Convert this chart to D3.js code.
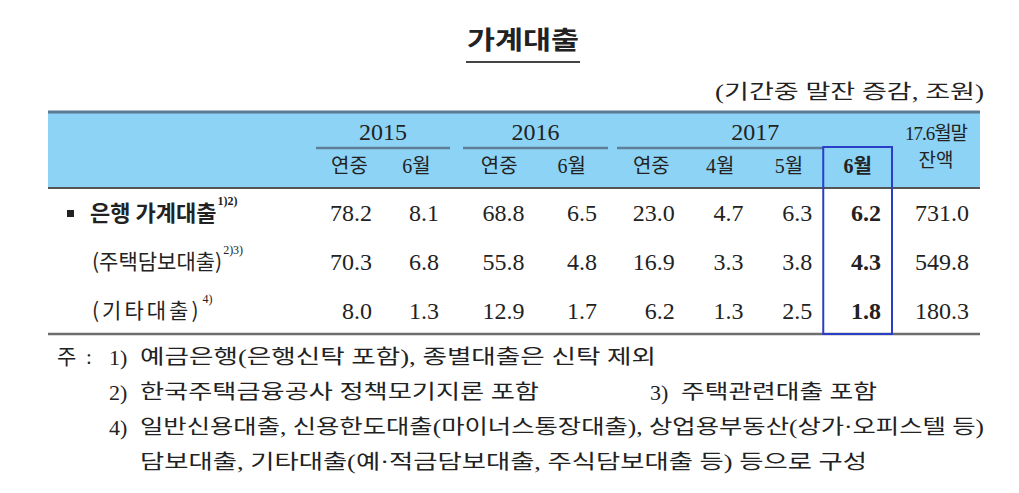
<!DOCTYPE html>
<html>
<head>
<meta charset="utf-8">
<script src="https://cdn.jsdelivr.net/npm/d3@7"></script>
<style>
body { margin: 0; background: #fff; }
</style>
</head>
<body>
<svg id="chart"></svg>
<script>
// table content
const title = '가계대출';
const unitNote = '(기간중 말잔 증감, 조원)';
const years = ['2015', '2016', '2017'];
const periodsByYear = [['연중', '6월'], ['연중', '6월'], ['연중', '4월', '5월', '6월']];
const balanceHeader = ['17.6월말', '잔액'];
const rowLabels = ['은행 가계대출', '(주택담보대출)', '(기타대출)'];
const rowFootnotes = ['1)2)', '2)3)', '4)'];
const bankLoans = [78.2, 8.1, 68.8, 6.5, 23.0, 4.7, 6.3, 6.2, 731.0];
const mortgageLoans = [70.3, 6.8, 55.8, 4.8, 16.9, 3.3, 3.8, 4.3, 549.8];
const otherLoans = [8.0, 1.3, 12.9, 1.7, 6.2, 1.3, 2.5, 1.8, 180.3];
const footnotes = [
  {num: '1)', text: '예금은행(은행신탁 포함), 종별대출은 신탁 제외'},
  {num: '2)', text: '한국주택금융공사 정책모기지론 포함'},
  {num: '3)', text: '주택관련대출 포함'},
  {num: '4)', text: '일반신용대출, 신용한도대출(마이너스통장대출), 상업용부동산(상가·오피스텔 등)'},
  {num: '', text: '담보대출, 기타대출(예·적금담보대출, 주식담보대출 등) 등으로 구성'}
];

// layout
const W = 1019, H = 493;
const tableLeft = 48, tableRight = 980;
const headTop = 112, headBottom = 188, tableBottom = 334;
const groupExtents = [[316, 450], [463, 608], [617, 892]];
const balanceExtent = [892, 980];
const rowY = d3.scalePoint().domain(d3.range(rowLabels.length)).range([213, 311]);
const labelSizes = [22, 21, 21];
const labelSpacing = [0, 0, 3];
const noteRows = [[0], [1, 2], [3], [4]];
const noteY = d3.scalePoint().domain(d3.range(noteRows.length)).range([357, 462]);
const noteWidths = [516, 399, 196, 844, 727];

const SERIF = "'Liberation Serif', 'Noto Sans CJK KR', serif";
const KR = "'Noto Sans CJK KR', sans-serif";
const ink = '#222';

const svg = d3.select('#chart').attr('width', W).attr('height', H);

// build columns from groups
const columns = [];
years.forEach((yr, g) => {
  const band = d3.scaleBand().domain(periodsByYear[g].map((p, i) => i)).range(groupExtents[g]);
  periodsByYear[g].forEach((p, i) => {
    columns.push({year: yr, label: p, x0: band(i), x1: band(i) + band.bandwidth()});
  });
});
columns.push({year: null, label: balanceHeader, x0: balanceExtent[0], x1: balanceExtent[1]});
const hiIndex = columns.length - 2; // 2017 6월

// title
svg.append('text')
  .attr('x', 523).attr('y', 40).attr('dy', '0.35em')
  .attr('text-anchor', 'middle')
  .attr('font-family', KR).attr('font-weight', 'bold').attr('font-size', 25)
  .attr('textLength', 112).attr('lengthAdjust', 'spacingAndGlyphs')
  .attr('fill', ink).text(title);
svg.append('line').attr('x1', 466).attr('x2', 580).attr('y1', 62).attr('y2', 62)
  .attr('stroke', '#444').attr('stroke-width', 2);

svg.append('text')
  .attr('x', 984).attr('y', 92).attr('dy', '0.35em')
  .attr('text-anchor', 'end')
  .attr('font-family', SERIF).attr('font-size', 20)
  .attr('textLength', 269).attr('lengthAdjust', 'spacingAndGlyphs')
  .attr('fill', ink).text(unitNote);

// header band
svg.append('rect').attr('x', tableLeft).attr('y', headTop)
  .attr('width', tableRight - tableLeft).attr('height', headBottom - headTop)
  .attr('fill', '#8dd3f6');
svg.append('line').attr('x1', tableLeft).attr('x2', tableRight).attr('y1', headTop).attr('y2', headTop)
  .attr('stroke', '#5b7b93').attr('stroke-width', 3);
svg.append('line').attr('x1', tableLeft).attr('x2', tableRight).attr('y1', headBottom).attr('y2', headBottom)
  .attr('stroke', '#555').attr('stroke-width', 2);

// years + underlines
years.forEach((yr, g) => {
  const ext = groupExtents[g];
  const lineEnd = g === years.length - 1 ? columns[hiIndex].x0 : ext[1];
  svg.append('text')
    .attr('x', (ext[0] + lineEnd) / 2 + (g === 2 ? 35 : 0)).attr('y', 132).attr('dy', '0.35em')
    .attr('text-anchor', 'middle')
    .attr('font-family', SERIF).attr('font-size', 24)
    .attr('fill', ink).text(yr);
  svg.append('line').attr('x1', ext[0]).attr('x2', lineEnd).attr('y1', 148).attr('y2', 148)
    .attr('stroke', '#5f7f98').attr('stroke-width', 2.5);
});

// period labels
columns.forEach((c, i) => {
  const cx = (c.x0 + c.x1) / 2;
  if (Array.isArray(c.label)) {
    svg.append('text').attr('x', cx).attr('y', 133).attr('dy', '0.35em')
      .attr('text-anchor', 'middle').attr('font-family', SERIF).attr('font-size', 19)
      .attr('letter-spacing', -1).attr('fill', ink).text(c.label[0]);
    svg.append('text').attr('x', cx).attr('y', 160).attr('dy', '0.35em')
      .attr('text-anchor', 'middle').attr('font-family', SERIF).attr('font-size', 19)
      .attr('fill', ink).text(c.label[1]);
  } else {
    svg.append('text').attr('x', cx).attr('y', 166).attr('dy', '0.35em')
      .attr('text-anchor', 'middle').attr('font-family', SERIF).attr('font-size', 20)
      .attr('font-weight', i === hiIndex ? 'bold' : 'normal')
      .attr('fill', ink).text(c.label);
  }
});

// data rows
const rows = [bankLoans, mortgageLoans, otherLoans];
rows.forEach((vals, r) => {
  const y = rowY(r);
  const lx = r === 0 ? 90 : 92;
  if (r === 0) {
    svg.append('rect').attr('x', 67).attr('y', y - 3).attr('width', 7).attr('height', 7).attr('fill', ink);
  }
  const label = svg.append('text').attr('x', lx).attr('y', y).attr('dy', '0.35em')
    .attr('font-family', KR).attr('font-size', labelSizes[r])
    .attr('font-weight', r === 0 ? 'bold' : 'normal')
    .attr('letter-spacing', labelSpacing[r])
    .attr('fill', ink).text(rowLabels[r]);
  const lw = label.node().getComputedTextLength();
  svg.append('text').attr('x', lx + lw + 1).attr('y', y - 8)
    .attr('font-family', SERIF).attr('font-size', 12)
    .attr('font-weight', r === 0 ? 'bold' : 'normal')
    .attr('fill', ink).text(rowFootnotes[r]);

  svg.selectAll(null).data(vals).enter().append('text')
    .attr('x', (d, i) => columns[i].x1 - 11)
    .attr('y', y).attr('dy', '0.35em')
    .attr('text-anchor', 'end')
    .attr('font-family', SERIF).attr('font-size', 24)
    .attr('font-weight', (d, i) => i === hiIndex ? 'bold' : 'normal')
    .attr('fill', ink)
    .text(d => d3.format('.1f')(d));
});

// bottom rule and highlight box
svg.append('line').attr('x1', tableLeft).attr('x2', tableRight).attr('y1', tableBottom).attr('y2', tableBottom)
  .attr('stroke', '#6d6d6d').attr('stroke-width', 2.5);
svg.append('rect')
  .attr('x', columns[hiIndex].x0).attr('y', 147)
  .attr('width', columns[hiIndex].x1 - columns[hiIndex].x0).attr('height', tableBottom - 147)
  .attr('fill', 'none').attr('stroke', '#2b3fc6').attr('stroke-width', 2);

// footnotes
svg.append('text').attr('x', 57).attr('y', noteY(0)).attr('dy', '0.35em')
  .attr('font-family', SERIF).attr('font-size', 21).attr('fill', ink).text('주');
svg.append('text').attr('x', 86).attr('y', noteY(0)).attr('dy', '0.35em')
  .attr('font-family', SERIF).attr('font-size', 21).attr('fill', ink).text(':');
noteRows.forEach((ids, line) => {
  ids.forEach((id, k) => {
    const n = footnotes[id];
    const nx = k === 0 ? 109 : 650;
    if (n.num) {
      svg.append('text').attr('x', nx).attr('y', noteY(line)).attr('dy', '0.35em')
        .attr('font-family', SERIF).attr('font-size', 22).attr('fill', ink).text(n.num);
    }
    svg.append('text').attr('x', nx + 31).attr('y', noteY(line)).attr('dy', '0.35em')
      .attr('font-family', SERIF).attr('font-size', 20)
      .attr('textLength', noteWidths[id]).attr('lengthAdjust', 'spacingAndGlyphs')
      .attr('fill', ink).text(n.text);
  });
});
</script>
</body>
</html>
